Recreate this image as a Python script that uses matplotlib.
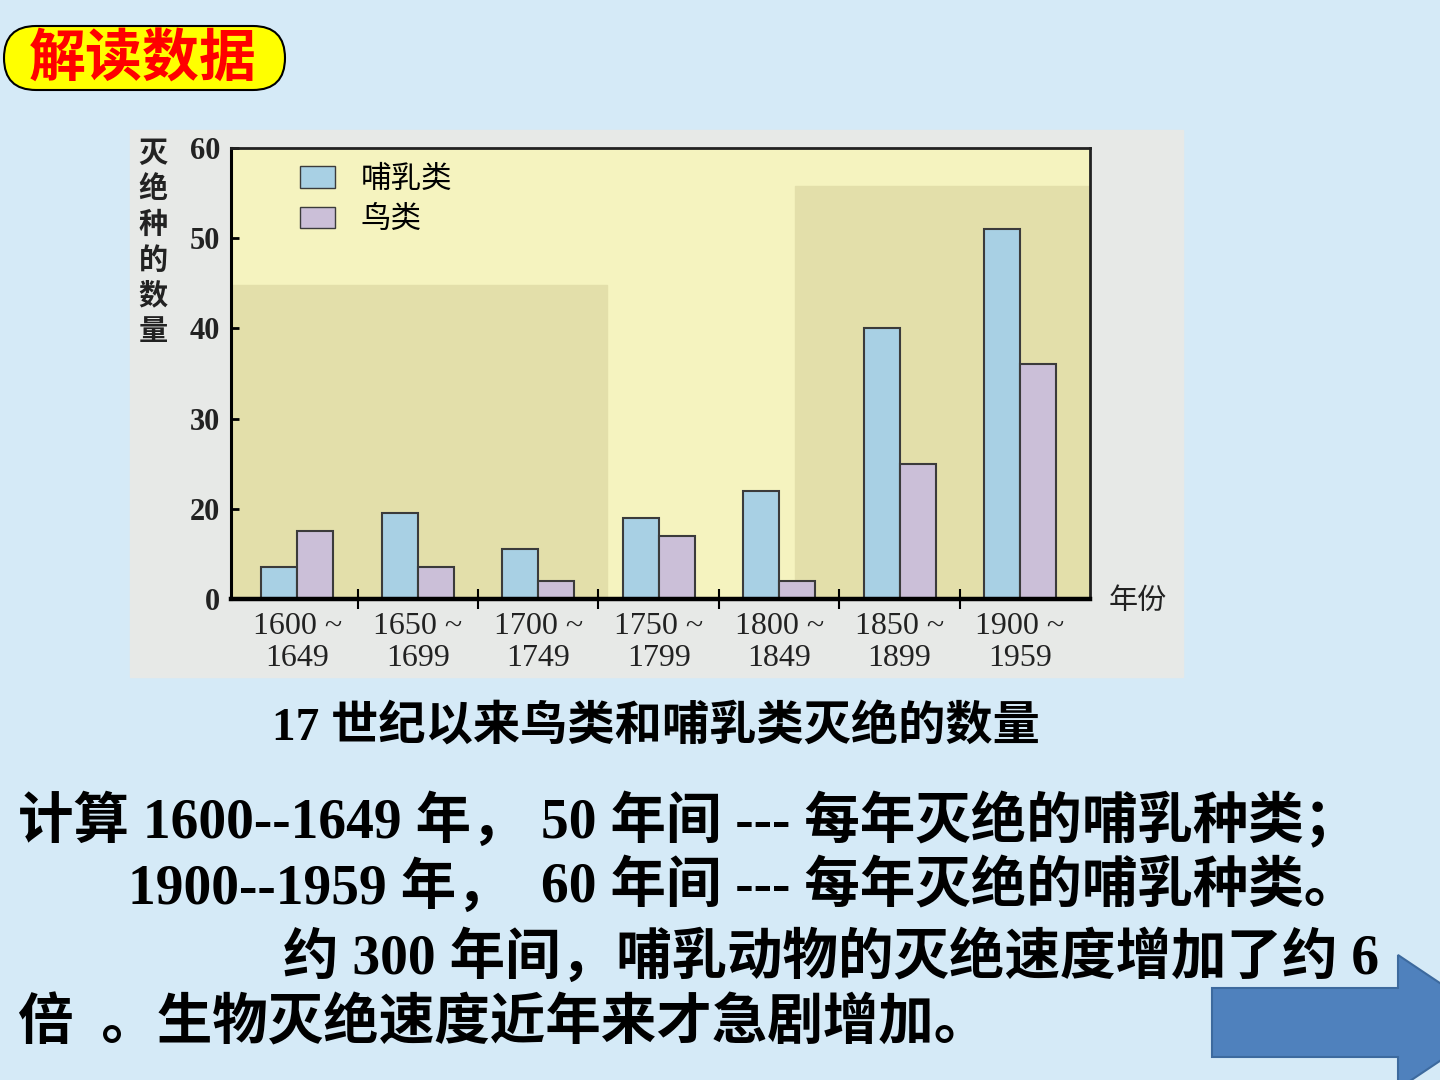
import numpy as np
import matplotlib.pyplot as plt
from matplotlib.patches import Rectangle, FancyBboxPatch, Polygon, Patch

plt.rcParams['font.family'] = ['Liberation Serif', 'Noto Sans CJK SC']

# data
periods = ['1600 ~\n1649', '1650 ~\n1699', '1700 ~\n1749', '1750 ~\n1799',
           '1800 ~\n1849', '1850 ~\n1899', '1900 ~\n1959']
mammals = [7, 19, 11, 18, 22, 40, 51]
birds = [15, 7, 4, 14, 4, 25, 36]
yticks = [0, 20, 30, 40, 50, 60]

mammal_color = '#a8d0e4'
bird_color = '#cbbfd8'
edge = '#3b3b3b'

fig = plt.figure(figsize=(14.4, 10.8), dpi=100)

# background slide, in pixel coordinates
bg = fig.add_axes([0, 0, 1, 1])
bg.set_xlim(0, 1440)
bg.set_ylim(1080, 0)
bg.axis('off')
bg.add_patch(Rectangle((0, 0), 1440, 1080, color='#d5eaf7', zorder=0))
bg.add_patch(Rectangle((130, 130), 1053, 547, color='#e7e9e7', zorder=1))

# title badge
bg.add_patch(FancyBboxPatch((4, 26), 281, 64, boxstyle='round,pad=0,rounding_size=32',
                            facecolor='#ffff00', edgecolor='black', linewidth=1.5, zorder=2))
bg.text(143, 60, '解读数据', color='#ff0000', fontsize=41, fontweight='bold',
        family=['Noto Sans CJK SC'], ha='center', va='center', zorder=3)

# vertical y label
for i, ch in enumerate('灭绝种的数量'):
    bg.text(153, 153 + i * 35.5, ch, fontsize=21, fontweight='bold', color='#222222',
            family=['Noto Sans CJK SC'], ha='center', va='center', zorder=3)
bg.text(1138, 601, '年份', fontsize=21, color='#222222', family=['Noto Sans CJK SC'],
        ha='center', va='center', zorder=3)

# caption and body text
bg.text(272, 727, '17 世纪以来鸟类和哺乳类灭绝的数量', fontsize=34, fontweight='bold',
        ha='left', va='center', zorder=3)
txt = dict(fontsize=40, fontweight='bold', ha='left', va='center', zorder=3)
bg.text(18, 822, '计算 1600--1649 年，', **txt)
bg.text(541, 822, '50 年间 --- 每年灭绝的哺乳种类；', **txt)
bg.text(128, 888, '1900--1959 年，', **txt)
bg.text(541, 888, '60 年间 --- 每年灭绝的哺乳种类。', **txt)
bg.text(283, 958, '约 300 年间，哺乳动物的灭绝速度增加了约 6', **txt)
bg.text(18, 1025, '倍  。生物灭绝速度近年来才急剧增加。', **txt)

# next arrow
bg.add_patch(Polygon([(1212, 988), (1398, 988), (1398, 955), (1498, 1022),
                      (1398, 1089), (1398, 1057), (1212, 1057)],
                     facecolor='#4f81bd', edgecolor='#3d6a9e', linewidth=1.5, zorder=2))

# chart axes; the printed y axis squeezes 0-20 into the height of 10
def fwd(y):
    y = np.asarray(y, dtype=float)
    return np.where(y <= 20, y / 20, 1 + (y - 20) / 10)

def inv(v):
    v = np.asarray(v, dtype=float)
    return np.where(v <= 1, v * 20, 20 + (v - 1) * 10)

ax = fig.add_axes([231 / 1440, 1 - 599 / 1080, 859 / 1440, 451 / 1080])
ax.set_facecolor('#f5f3bf')
ax.add_patch(Rectangle((0, 0), 0.438, 0.696, transform=ax.transAxes,
                       color='#e3dfaa', zorder=0))
ax.add_patch(Rectangle((0.657, 0), 0.343, 0.916, transform=ax.transAxes,
                       color='#e3dfaa', zorder=0))

x = np.arange(len(periods))
w = 0.3
ax.bar(x - w / 2, mammals, w, color=mammal_color, edgecolor=edge, linewidth=1.5,
       label='哺乳类', zorder=2)
ax.bar(x + w / 2, birds, w, color=bird_color, edgecolor=edge, linewidth=1.5,
       label='鸟类', zorder=2)

ax.set_yscale('function', functions=(fwd, inv))
ax.set_ylim(0, 60)
ax.set_xlim(-0.55, 6.58)
ax.set_yticks(yticks)
ax.set_yticklabels([str(t) for t in yticks], fontsize=22, fontweight='bold', color='#222222')
ax.tick_params(axis='y', direction='in', length=6, width=2, pad=8)

ax.set_xticks(x[:-1] + 0.5)
ax.set_xticklabels([])
ax.set_xticks(x, minor=True)
ax.set_xticklabels(periods, minor=True, fontsize=23, color='#222222', linespacing=1.15)
ax.tick_params(axis='x', which='major', direction='inout', length=14, width=1.5)
ax.tick_params(axis='x', which='minor', length=0, pad=9)

for side in ['top', 'right']:
    ax.spines[side].set_linewidth(2)
    ax.spines[side].set_color('#222222')
ax.spines['left'].set_linewidth(2.2)
ax.spines['bottom'].set_linewidth(3.2)

ax.legend(handles=[Patch(facecolor=mammal_color, edgecolor=edge, label='哺乳类'),
                   Patch(facecolor=bird_color, edgecolor=edge, label='鸟类')],
          loc='upper left', bbox_to_anchor=(0.08, 0.965), frameon=False,
          prop={'family': ['Noto Sans CJK SC'], 'size': 22},
          handlelength=1.15, handleheight=0.7, handletextpad=0.85,
          labelspacing=0.3, borderpad=0, borderaxespad=0)

fig.savefig('out.png', dpi=100)
